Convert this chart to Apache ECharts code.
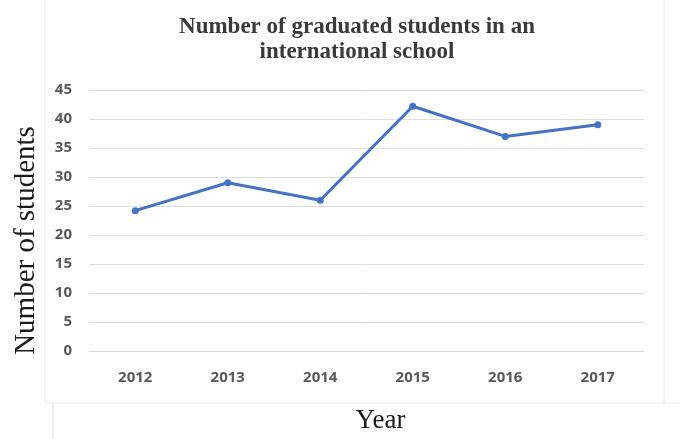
<!DOCTYPE html>
<html><head><meta charset="utf-8">
<script src="https://cdn.jsdelivr.net/npm/echarts@6/dist/echarts.min.js"></script>
<style>html,body{margin:0;padding:0;background:#fff}#c{width:680px;height:439px}</style>
</head><body><div id="c"></div>
<script>
const years = ['2012','2013','2014','2015','2016','2017'];
const students = [24.2, 29, 26, 42.2, 37, 39];
const titleText = 'Number of graduated students in an\ninternational school';
const yName = 'Number of students';
const xName = 'Year';

const chart = echarts.init(document.getElementById('c'));
chart.setOption({
  backgroundColor: '#ffffff',
  animation: false,
  title: {
    text: titleText,
    left: 352, top: 10,
    textAlign: 'center',
    textStyle: { fontFamily: 'Liberation Serif', fontWeight: 'bold', fontSize: 23, color: '#3a3a3a', lineHeight: 25 }
  },
  graphic: [
    { type: 'line', shape: { x1: 45, y1: 0, x2: 45, y2: 403 }, style: { stroke: '#ececec', lineWidth: 1 } },
    { type: 'line', shape: { x1: 664, y1: 0, x2: 664, y2: 403 }, style: { stroke: '#e6e6e6', lineWidth: 1 } },
    { type: 'line', shape: { x1: 45, y1: 403, x2: 680, y2: 403 }, style: { stroke: '#e6e6e6', lineWidth: 1 } },
    { type: 'line', shape: { x1: 53, y1: 403, x2: 53, y2: 439 }, style: { stroke: '#dcdcdc', lineWidth: 1 } }
  ],
  grid: { left: 89, right: 36, top: 90, bottom: 84 },
  xAxis: {
    type: 'category',
    data: years,
    boundaryGap: true,
    name: xName,
    nameLocation: 'middle',
    nameGap: 56,
    nameTextStyle: { fontFamily: 'Liberation Serif', fontSize: 27, color: '#1a1a1a', padding: [0, 0, 0, 28] },
    axisLine: { show: true, lineStyle: { color: '#d9d9d9' } },
    axisTick: { show: false },
    axisLabel: { margin: 19, fontFamily: 'Liberation Sans Narrow, Open Sans', fontWeight: 'bold', fontSize: 15, color: '#595959' }
  },
  yAxis: {
    type: 'value',
    min: 0, max: 45, interval: 5,
    name: yName,
    nameLocation: 'middle',
    nameGap: 48,
    nameTextStyle: { fontFamily: 'Liberation Serif', fontSize: 29, color: '#1a1a1a', padding: [0, 40, 0, 0] },
    axisLine: { show: false },
    axisTick: { show: false },
    splitLine: { lineStyle: { color: '#dedede' } },
    axisLabel: { margin: 17, fontFamily: 'Liberation Sans Narrow, Open Sans', fontWeight: 'bold', fontSize: 15, color: '#595959' }
  },
  series: [{
    type: 'line',
    data: students,
    symbol: 'circle',
    symbolSize: 7,
    lineStyle: { color: '#4472C4', width: 3 },
    itemStyle: { color: '#4472C4' }
  }]
});
</script></body></html>
